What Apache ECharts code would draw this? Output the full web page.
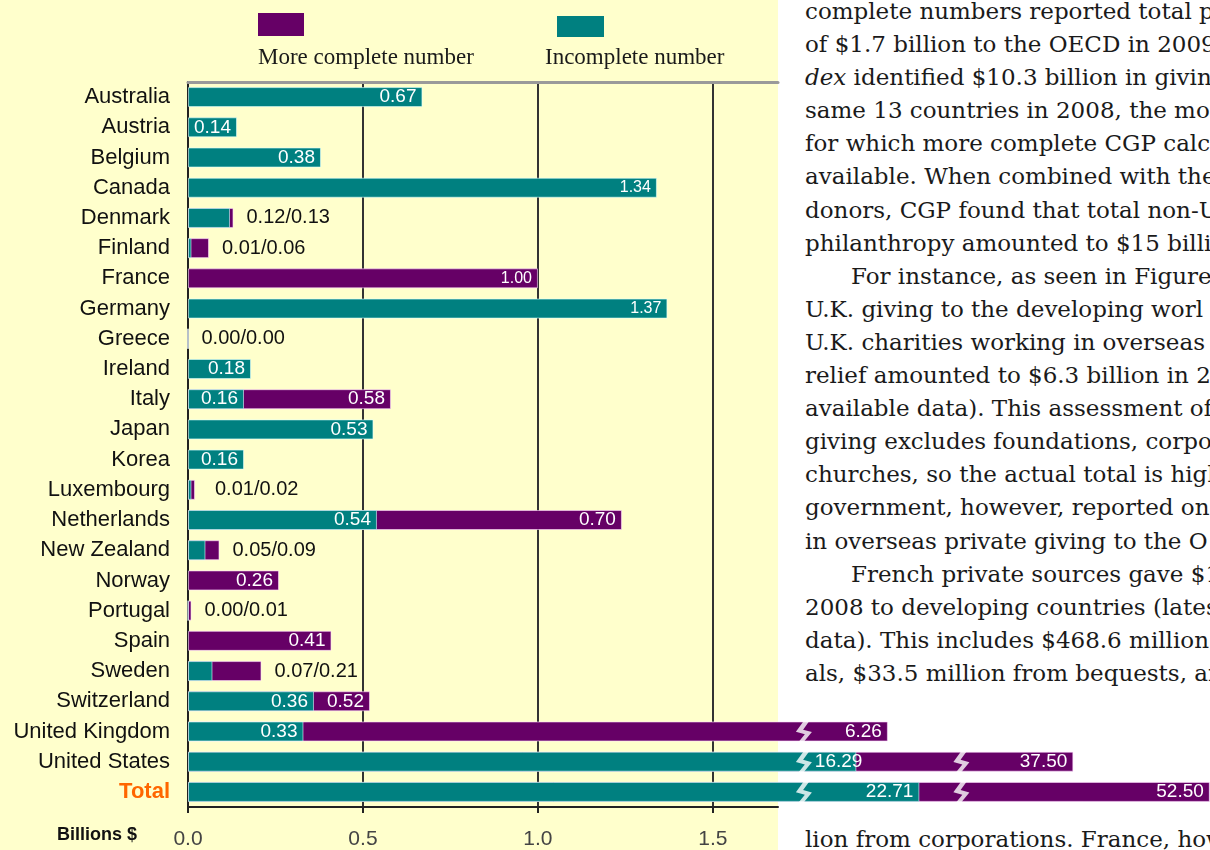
<!DOCTYPE html>
<html>
<head>
<meta charset="utf-8">
<title>Private giving</title>
<script src="https://cdn.jsdelivr.net/npm/echarts@6/dist/echarts.min.js"></script>
<style>
    html, body { margin: 0; padding: 0; width: 1210px; height: 850px; overflow: hidden; background: #fff; }
    #panel { position: absolute; left: 0; top: 0; width: 778px; height: 850px; background: #FFFFCC; }
    .prose { position: absolute; left: 805px; width: 405px; overflow: hidden; white-space: nowrap;
             font-family: 'DejaVu Serif', serif; font-size: 23px; line-height: 33.1px; color: #1a1a1a; }
    .prose .ind { padding-left: 46px; }
    #chart { position: absolute; left: 0; top: 0; width: 1210px; height: 850px; }
</style>
</head>
<body>
<div id="panel"></div>
<div class="prose" style="top:-5px;">
    <div>complete numbers reported total p</div>
    <div>of $1.7 billion to the OECD in 2009</div>
    <div><i>dex</i> identified $10.3 billion in givin</div>
    <div>same 13 countries in 2008, the mos</div>
    <div>for which more complete CGP calc</div>
    <div>available. When combined with the</div>
    <div>donors, CGP found that total non-U</div>
    <div>philanthropy amounted to $15 billi</div>
    <div class="ind">For instance, as seen in Figure</div>
    <div>U.K. giving to the developing worl</div>
    <div>U.K. charities working in overseas</div>
    <div>relief amounted to $6.3 billion in 20</div>
    <div>available data). This assessment of</div>
    <div>giving excludes foundations, corpo</div>
    <div>churches, so the actual total is high</div>
    <div>government, however, reported on</div>
    <div>in overseas private giving to the O</div>
    <div class="ind">French private sources gave $1</div>
    <div>2008 to developing countries (lates</div>
    <div>data). This includes $468.6 million</div>
    <div>als, $33.5 million from bequests, an</div>
</div>
<div class="prose" style="top:823px;">
    <div>lion from corporations. France, how</div>
</div>
<div id="chart"></div>
<script>
    var countries = ['Australia', 'Austria', 'Belgium', 'Canada', 'Denmark', 'Finland', 'France', 'Germany',
        'Greece', 'Ireland', 'Italy', 'Japan', 'Korea', 'Luxembourg', 'Netherlands', 'New Zealand', 'Norway',
        'Portugal', 'Spain', 'Sweden', 'Switzerland', 'United Kingdom', 'United States', 'Total'];

    //不完整数字
    var incomplete = [0.67, 0.14, 0.38, 1.34, 0.12, 0.01, null, 1.37, 0.00, 0.18, 0.16, 0.53, 0.16, 0.01,
        0.54, 0.05, null, 0.00, null, 0.07, 0.36, 0.33, 16.29, 22.71];

    //更完整数字
    var moreComplete = [null, null, null, null, 0.13, 0.06, 1.00, null, 0.00, null, 0.58, null, null, 0.02,
        0.70, 0.09, 0.26, 0.01, 0.41, 0.21, 0.52, 6.26, 37.50, 52.50];

    // rows whose bar is not drawn at its labelled value: the three past the axis break,
    // and Netherlands, whose purple bar runs to 0.54 + 0.70 in the original figure
    var drawnRows = ['Netherlands', 'United Kingdom', 'United States', 'Total'];
    var drawnIncomplete = [null, null, 1.91, 2.09];
    var drawnComplete = [1.24, 2.00, 2.53, 2.92];

    // zigzag break marks
    var breakRows = ['United Kingdom', 'United States', 'Total'];
    var breakCount = [1, 2, 2];
    var breakAt = [1.76, 2.21];

    var xTicks = [0, 0.5, 1.0, 1.5];
    var smallLabelRows = ['Canada', 'France', 'Germany'];

    var PURPLE = '#660066',
        TEAL = '#008080',
        SANS = 'Liberation Sans';

    function fmt(v) {
        return v.toFixed(2);
    }

    function isPair(i) {
        return incomplete[i] != null && moreComplete[i] != null && moreComplete[i] < 0.25;
    }

    function inLabel(c, text) {
        return {
            show: true,
            formatter: text,
            fontSize: smallLabelRows.indexOf(c) >= 0 ? 16 : 19
        };
    }

    var completeData = countries.map(function(c, i) {
        var v = moreComplete[i];
        if (v == null) return '-';
        var d = drawnRows.indexOf(c);
        var item = { value: (d >= 0 && drawnComplete[d] != null) ? drawnComplete[d] : v };
        if (isPair(i)) {
            item.label = {
                show: true,
                position: 'right',
                distance: c === 'Luxembourg' ? 20 : 13,
                color: '#111',
                fontSize: 20,
                formatter: fmt(incomplete[i]) + '/' + fmt(v)
            };
        } else {
            item.label = inLabel(c, fmt(v));
        }
        return item;
    });

    var incompleteData = countries.map(function(c, i) {
        var v = incomplete[i];
        if (v == null) return '-';
        var d = drawnRows.indexOf(c);
        var item = { value: (d >= 0 && drawnIncomplete[d] != null) ? drawnIncomplete[d] : v };
        if (isPair(i)) {
            item.label = { show: false };
        } else {
            item.label = inLabel(c, fmt(v));
            if (c === 'United States') item.label.offset = [12, 0];
        }
        return item;
    });

    var breakData = [];
    breakRows.forEach(function(c, b) {
        for (var k = 0; k < breakCount[b]; k++) {
            breakData.push([breakAt[k], c]);
        }
    });

    var chart = echarts.init(document.getElementById('chart'), null, { renderer: 'canvas' });

    var barLabel = {
        show: true,
        position: 'insideRight',
        distance: 6,
        color: '#fff',
        fontFamily: SANS,
        fontSize: 19
    };

    chart.setOption({
        backgroundColor: 'transparent',
        animation: false,
        grid: { left: 188, top: 82, width: 590, height: 726, containLabel: false },
        xAxis: [{
            type: 'value',
            min: 0,
            max: 1.686,
            interval: 0.5,
            axisLine: { show: true, lineStyle: { color: '#222', width: 2 } },
            axisTick: { show: true, length: 6, customValues: xTicks, lineStyle: { color: '#222', width: 2 } },
            axisLabel: {
                customValues: xTicks,
                margin: 22,
                fontFamily: SANS,
                fontSize: 21,
                color: '#444',
                formatter: function(v) { return v.toFixed(1); }
            },
            splitLine: {
                show: true,
                lineStyle: { color: ['#333', '#333', '#333', '#333', 'rgba(0,0,0,0)'], width: 2 }
            }
        }, {
            type: 'value',
            position: 'top',
            min: 0,
            max: 1.686,
            axisLine: { show: true, lineStyle: { color: '#9a9a9a', width: 3 } },
            axisTick: { show: false },
            axisLabel: { show: false },
            splitLine: { show: false }
        }],
        yAxis: {
            type: 'category',
            data: countries,
            inverse: true,
            axisLine: { lineStyle: { color: '#222', width: 2 } },
            axisTick: { length: 6, lineStyle: { color: '#222', width: 2 } },
            axisLabel: {
                margin: 18,
                fontFamily: SANS,
                fontSize: 22,
                color: '#111',
                formatter: function(v) {
                    return v === 'Total' ? '{t|Total}' : v;
                },
                rich: {
                    t: { color: '#FF6600', fontWeight: 'bold', fontFamily: SANS, fontSize: 22 }
                }
            }
        },
        graphic: [
            { type: 'rect', shape: { x: 258, y: 13, width: 46, height: 23 }, style: { fill: PURPLE } },
            { type: 'text', x: 258, y: 58, style: { text: 'More complete number', font: '23px "Liberation Serif"', fill: '#1a1a1a', verticalAlign: 'middle' } },
            { type: 'rect', shape: { x: 557, y: 16, width: 47, height: 21 }, style: { fill: TEAL } },
            { type: 'text', x: 545, y: 58, style: { text: 'Incomplete number', font: '23px "Liberation Serif"', fill: '#1a1a1a', verticalAlign: 'middle' } },
            { type: 'text', x: 57, y: 835, style: { text: 'Billions $', font: 'bold 18px "Liberation Sans"', fill: '#111', verticalAlign: 'middle' } }
        ],
        series: [{
            name: 'More complete number',
            type: 'bar',
            clip: false,
            barWidth: 20,
            itemStyle: { color: PURPLE, borderColor: 'rgba(255,220,255,0.6)', borderWidth: 1 },
            label: barLabel,
            data: completeData
        }, {
            name: 'Incomplete number',
            type: 'bar',
            clip: false,
            barWidth: 20,
            barGap: '-100%',
            itemStyle: { color: TEAL, borderColor: 'rgba(220,255,255,0.6)', borderWidth: 1 },
            label: barLabel,
            data: incompleteData
        }, {
            name: 'break',
            type: 'scatter',
            clip: false,
            z: 5,
            symbol: 'path://M6,0 L9.5,0 L4.5,8.6 L10,10.4 L3.6,20 L0.4,20 L5.6,12.2 L0,10.2 Z',
            symbolSize: [16, 26],
            itemStyle: { color: '#fff' },
            data: breakData
        }]
    });
</script>
</body>
</html>
